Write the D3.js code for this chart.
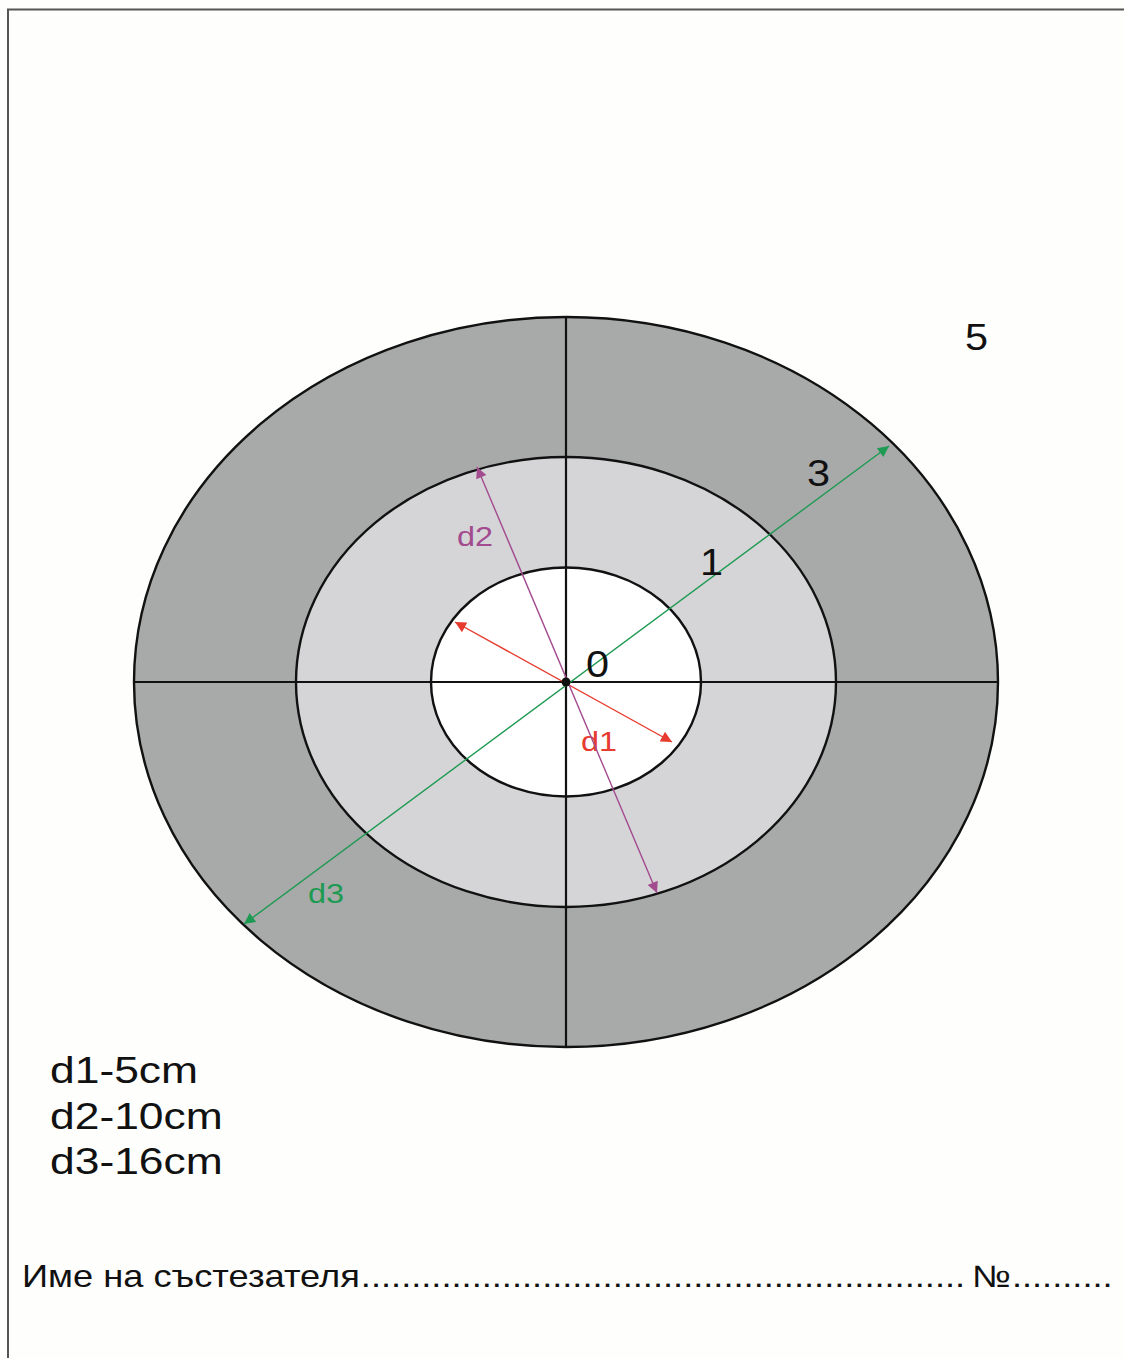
<!DOCTYPE html>
<html><head><meta charset="utf-8">
<script src="https://cdn.jsdelivr.net/npm/d3@7"></script>
<style>body{margin:0;background:#fff}svg{display:block}</style>
</head><body>
<script>
// ---- data ----
const ringNames = ["3", "1", "0"];
const ringRx = [432, 270, 135];
const ringRy = [365, 225, 114.5];
const ringFill = ["#a8aaaa", "#d5d5d7", "#ffffff"];
const ringLabels = ["5", "3", "1", "0"];
const ringLabelX = [399, 241, 134, 20];
const ringLabelY = [-332, -196, -107, -5];
const arrowNames = ["d1", "d2", "d3"];
const arrowColor = ["#e63b2e", "#a24b8f", "#1e9a52"];
const arrowStart = [[-111, -60], [-89, -215], [-322, 242]];
const arrowEnd = [[106, 60], [91, 211], [323, -236]];
const arrowLabelPos = [[15, 69], [-109, -136], [-258, 221]];
const legendLines = ["d1-5cm", "d2-10cm", "d3-16cm"];
const footerLabel = "Име на състезателя";
const footerNo = "№";

const W = 1124, H = 1358;
const cx = 566, cy = 682;
const FONT = "Liberation Sans, Arial, sans-serif";
const x = d3.scaleLinear().domain([0, 1]).range([cx, cx + 1]);
const y = d3.scaleLinear().domain([0, 1]).range([cy, cy + 1]);
const sx = d3.scaleLinear().domain([0, 1]).range([0, 1]);

const svg = d3.select("body").append("svg").attr("width", W).attr("height", H);
svg.append("rect").attr("width", W).attr("height", H).attr("fill", "#fefefd");
svg.append("path").attr("d", `M8,${H}V9.5H${W}`).attr("fill", "none").attr("stroke", "#555").attr("stroke-width", 2);

function stext(parent, tx, ty, s, size, color, str) {
  return parent.append("text").attr("transform", `translate(${tx},${ty}) scale(${s},1)`)
    .attr("font-family", FONT).attr("font-size", size).attr("fill", color).text(str);
}

const g = svg.append("g");
g.selectAll("ellipse.fill").data(ringRx).join("ellipse").attr("class", "fill")
  .attr("cx", x(0)).attr("cy", y(0))
  .attr("rx", d => sx(d)).attr("ry", (d, i) => sx(ringRy[i]))
  .attr("fill", (d, i) => ringFill[i]).attr("stroke", "none");
g.append("line").attr("x1", x(-ringRx[0])).attr("x2", x(ringRx[0])).attr("y1", y(0)).attr("y2", y(0))
  .attr("stroke", "#111").attr("stroke-width", 2.2);
g.append("line").attr("x1", x(0)).attr("x2", x(0)).attr("y1", y(-ringRy[0])).attr("y2", y(ringRy[0]))
  .attr("stroke", "#111").attr("stroke-width", 2.2);
g.selectAll("ellipse.out").data(ringRx).join("ellipse").attr("class", "out")
  .attr("cx", x(0)).attr("cy", y(0))
  .attr("rx", d => sx(d)).attr("ry", (d, i) => sx(ringRy[i]))
  .attr("fill", "none").attr("stroke", "#111").attr("stroke-width", 2.4);

const defs = svg.append("defs");
arrowColor.forEach((c, i) => {
  defs.append("marker").attr("id", "ah" + i).attr("viewBox", "0 0 10 10")
    .attr("refX", 10).attr("refY", 5).attr("markerWidth", 15).attr("markerHeight", 11)
    .attr("markerUnits", "userSpaceOnUse").attr("orient", "auto-start-reverse")
    .append("path").attr("d", "M0,0L10,5L0,10Z").attr("fill", c);
});
arrowNames.forEach((n, i) => {
  const s = arrowStart[i], e = arrowEnd[i];
  g.append("line").attr("x1", x(s[0])).attr("y1", y(s[1])).attr("x2", x(e[0])).attr("y2", y(e[1]))
    .attr("stroke", arrowColor[i]).attr("stroke-width", 1.4)
    .attr("marker-start", "url(#ah" + i + ")").attr("marker-end", "url(#ah" + i + ")");
  stext(g, x(arrowLabelPos[i][0]), y(arrowLabelPos[i][1]), 1.2, 27, arrowColor[i], n);
});
g.append("circle").attr("cx", x(0)).attr("cy", y(0)).attr("r", 4.5).attr("fill", "#111");

ringLabels.forEach((d, i) => stext(g, x(ringLabelX[i]), y(ringLabelY[i]), 1.12, 37, "#111", d));

legendLines.forEach((d, i) => stext(svg, 50, 1083 + i * 45.5, 1.2, 37, "#111", d));

// footer
const fs = 1.17, fsize = 31, fy = 1287;
const lab = stext(svg, 22, fy, fs, fsize, "#111", footerLabel);
const labEnd = 22 + lab.node().getComputedTextLength() * fs;
const noT = stext(svg, 972, fy, fs, fsize, "#111", footerNo);
const noEnd = 972 + noT.node().getComputedTextLength() * fs;
function dots(startX, endX) {
  const t = stext(svg, startX, fy, fs, fsize, "#111", ".");
  let n = 1;
  while (true) {
    t.text(".".repeat(n + 1));
    if (startX + t.node().getComputedTextLength() * fs > endX) break;
    n++;
  }
  t.text(".".repeat(n));
}
dots(labEnd + 1, 970);
dots(noEnd + 1, 1114);
</script>
</body></html>
